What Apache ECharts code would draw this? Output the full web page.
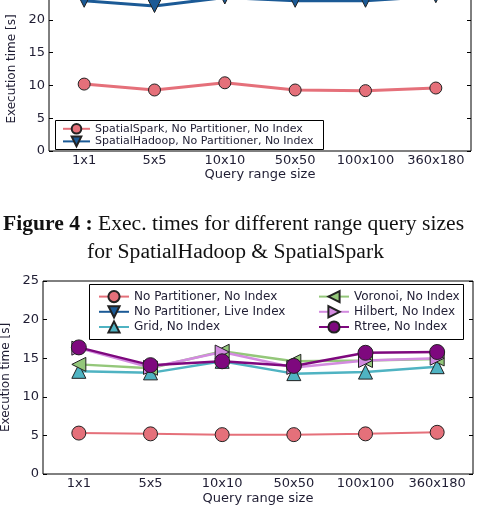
<!DOCTYPE html>
<html>
<head>
<meta charset="utf-8">
<script src="https://cdn.jsdelivr.net/npm/echarts@6/dist/echarts.min.js"></script>
<style>
  html, body { margin: 0; padding: 0; background: #fff; }
  #chart { width: 479px; height: 507px; }
</style>
</head>
<body>
<div id="chart"></div>
<script>
  // query range sizes (x axis of both plots)
  const categories = ['1x1', '5x5', '10x10', '50x50', '100x100', '360x180']

  // upper plot (cut off at the top of the page)
  const sparkNoPartNoIdx = [10.2, 9.3, 10.4, 9.3, 9.2, 9.6]
  const hadoopNoPartNoIdx = [22.9, 22.1, 23.4, 22.9, 22.9, 23.6]

  // lower plot
  const noPartNoIdx = [5.3, 5.2, 5.1, 5.1, 5.2, 5.4]
  const noPartLiveIdx = [] // hidden behind the other lines
  const gridNoIdx = [13.3, 13.1, 14.6, 13.0, 13.2, 13.9]
  const voronoiNoIdx = [14.2, 13.7, 15.9, 14.6, 14.7, 14.9]
  const hilbertNoIdx = [16.3, 13.8, 15.8, 13.8, 14.7, 15.0]
  const rtreeNoIdx = [16.4, 14.1, 14.6, 14.0, 15.7, 15.8]

  const txt = '#1f1d33'
  const fontAx = 'DejaVu Sans'

  function axesFor (gi) {
    let xs = [
      {
        type: 'category', gridIndex: gi, data: categories, position: 'bottom',
        axisLine: { show: false },
        axisTick: { inside: true, alignWithLabel: true, length: 4, lineStyle: { color: '#000' } },
        axisLabel: { color: txt, fontFamily: fontAx, fontSize: 13, margin: 3, interval: 0 },
        name: 'Query range size', nameLocation: 'middle', nameGap: gi === 0 ? 17 : 18,
        nameTextStyle: { color: txt, fontFamily: fontAx, fontSize: 13 },
      },
      {
        type: 'category', gridIndex: gi, data: categories, position: 'top',
        axisLine: { show: false },
        axisTick: { inside: true, alignWithLabel: true, length: 4, interval: 0, lineStyle: { color: '#000' } },
        axisLabel: { show: false },
      },
    ]
    let ys = [
      {
        type: 'value', gridIndex: gi, min: 0, max: 25, interval: 5, position: 'left',
        axisLine: { show: false },
        splitLine: { show: false },
        axisTick: { show: true, inside: true, length: 4, lineStyle: { color: '#000' } },
        axisLabel: { color: txt, fontFamily: fontAx, fontSize: 13, margin: 4 },
        name: 'Execution time [s]', nameLocation: 'middle', nameGap: gi === 0 ? 26 : 29,
        nameTextStyle: { color: txt, fontFamily: fontAx, fontSize: 12 },
      },
      {
        type: 'value', gridIndex: gi, min: 0, max: 25, interval: 5, position: 'right',
        axisLine: { show: false },
        splitLine: { show: false },
        axisTick: { show: true, inside: true, length: 4, lineStyle: { color: '#000' } },
        axisLabel: { show: false },
      },
    ]
    return { xs, ys }
  }

  const a0 = axesFor(0)
  const a1 = axesFor(1)

  function line (name, data, color, symbol, rot, size, width, xi, yi) {
    return {
      name: name, type: 'line', data: data,
      xAxisIndex: xi, yAxisIndex: yi,
      symbol: symbol, symbolSize: size, symbolRotate: rot,
      lineStyle: { color: color, width: width },
      itemStyle: { color: color, borderColor: '#222', borderWidth: 1 },
      emphasis: { disabled: true },
      animation: false,
    }
  }

  const red = '#e5707a'
  const blue = '#1b5a96'
  const cyan = '#4fb3c2'
  const green = '#94c77a'
  const pink = '#d38be0'
  const purple = '#7e087e'

  const option = {
    backgroundColor: '#fff',
    animation: false,
    grid: [
      { left: 49, right: 8, top: -13, bottom: 356, outerBoundsMode: 'none', show: true, borderColor: '#000', borderWidth: 1, backgroundColor: 'transparent' },
      { left: 43, right: 6, top: 281, bottom: 33, outerBoundsMode: 'none', show: true, borderColor: '#000', borderWidth: 1, backgroundColor: 'transparent' },
    ],
    xAxis: a0.xs.concat(a1.xs),
    yAxis: a0.ys.concat(a1.ys),
    legend: [
      {
        data: ['SpatialSpark, No Partitioner, No Index', 'SpatialHadoop, No Partitioner, No Index'],
        orient: 'vertical', left: 57, top: 118, itemGap: 1, itemWidth: 27, itemHeight: 12,
        textStyle: { color: txt, fontFamily: fontAx, fontSize: 11 }, z: 10,
      },
      {
        data: ['No Partitioner, No Index', 'No Partitioner, Live Index', 'Grid, No Index'],
        orient: 'vertical', left: 93, top: 285, itemGap: 2, itemWidth: 30, itemHeight: 14,
        textStyle: { color: txt, fontFamily: fontAx, fontSize: 12 }, z: 10,
      },
      {
        data: ['Voronoi, No Index', 'Hilbert, No Index', 'Rtree, No Index'],
        orient: 'vertical', left: 313, top: 285, itemGap: 2, itemWidth: 30, itemHeight: 14,
        textStyle: { color: txt, fontFamily: fontAx, fontSize: 12 }, z: 10,
      },
    ],
    graphic: [
      { type: 'rect', shape: { x: 55.5, y: 120.5, width: 268, height: 29 }, style: { fill: '#fff', stroke: '#000', lineWidth: 1 }, z: 5 },
      { type: 'rect', shape: { x: 89.5, y: 284.5, width: 374, height: 55 }, style: { fill: '#fff', stroke: '#000', lineWidth: 1 }, z: 5 },
      {
        type: 'text', x: 3, y: 225, z: 5, scaleX: 1.08,
        style: {
          text: '{b|Figure 4 :} Exec. times for different range query sizes',
          fill: '#111', font: '20px "Liberation Serif"', textVerticalAlign: 'middle',
          rich: { b: { fontWeight: 'bold', fontSize: 20, fontFamily: 'Liberation Serif', fill: '#111' } },
        },
      },
      {
        type: 'text', x: 87, y: 253, z: 5, scaleX: 1.08,
        style: { text: 'for SpatialHadoop & SpatialSpark', fill: '#111', font: '20px "Liberation Serif"', textVerticalAlign: 'middle' },
      },
    ],
    series: [
      line('SpatialSpark, No Partitioner, No Index', sparkNoPartNoIdx, red, 'circle', 0, 12, 3, 0, 0),
      line('SpatialHadoop, No Partitioner, No Index', hadoopNoPartNoIdx, blue, 'triangle', 180, 13, 3, 0, 0),
      line('No Partitioner, No Index', noPartNoIdx, red, 'circle', 0, 14, 2, 2, 2),
      line('No Partitioner, Live Index', noPartLiveIdx, blue, 'triangle', 180, 14, 2.5, 2, 2),
      line('Grid, No Index', gridNoIdx, cyan, 'triangle', 0, 14, 2.5, 2, 2),
      line('Voronoi, No Index', voronoiNoIdx, green, 'triangle', 90, 14, 2.5, 2, 2),
      line('Hilbert, No Index', hilbertNoIdx, pink, 'triangle', -90, 14, 2.5, 2, 2),
      line('Rtree, No Index', rtreeNoIdx, purple, 'circle', 0, 15, 2.5, 2, 2),
    ],
  }

  const chart = echarts.init(document.getElementById('chart'))
  chart.setOption(option)
</script>
</body>
</html>
